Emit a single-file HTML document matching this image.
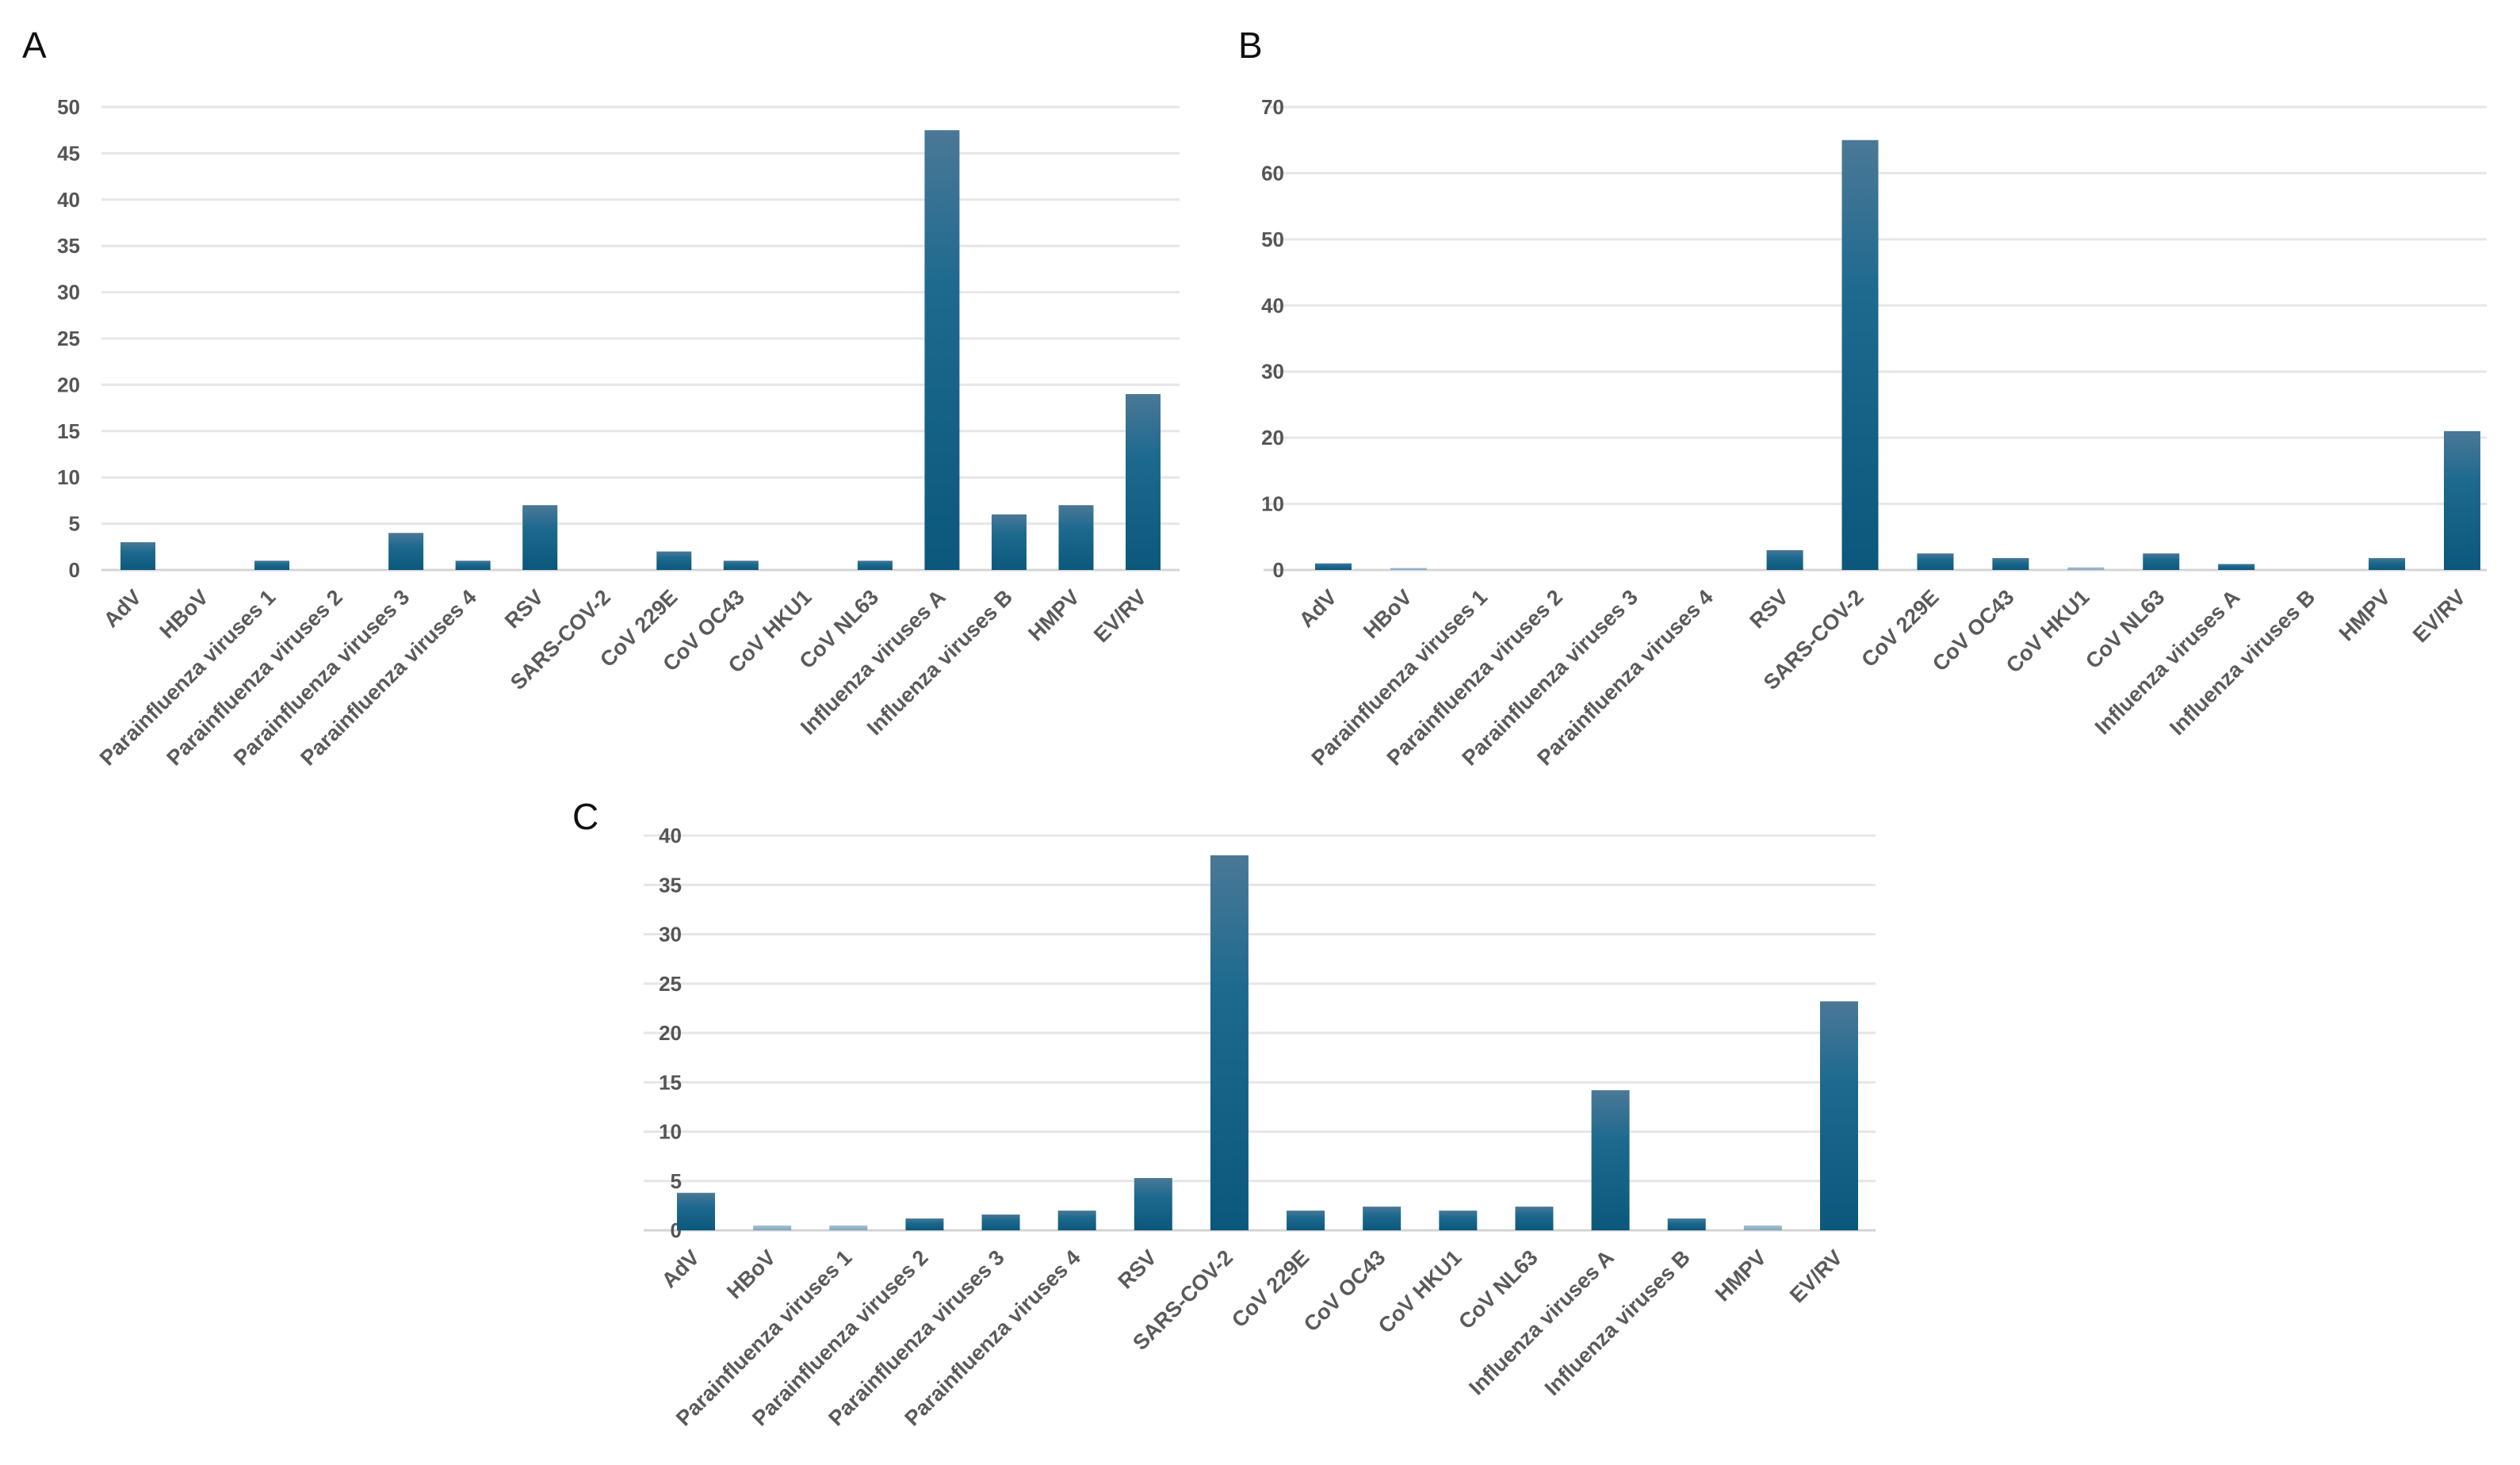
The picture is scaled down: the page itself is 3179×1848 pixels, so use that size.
<!DOCTYPE html>
<html><head><meta charset="utf-8">
<style>
html,body{margin:0;padding:0;background:#fff;}
svg{display:block;}
text{font-family:"Liberation Sans",Arial,sans-serif;}
</style></head>
<body>
<svg id="fig" width="3179" height="1848" viewBox="0 0 3179 1848" xmlns="http://www.w3.org/2000/svg">
<defs>
<linearGradient id="barGrad" x1="0" y1="0" x2="0" y2="1">
<stop offset="0" stop-color="#4b7896"/><stop offset="0.35" stop-color="#1e6a8f"/><stop offset="1" stop-color="#0b587c"/>
</linearGradient>
<linearGradient id="barLight" x1="0" y1="0" x2="0" y2="1">
<stop offset="0" stop-color="#a9c3d3"/><stop offset="1" stop-color="#7fa6be"/>
</linearGradient>
</defs>
<text x="28" y="73" font-size="46" fill="#111">A</text>
<text x="1562" y="73" font-size="46" fill="#111">B</text>
<text x="722" y="1046" font-size="46" fill="#111">C</text>
</svg>
<script>
const categories = ["AdV","HBoV","Parainfluenza viruses 1","Parainfluenza viruses 2","Parainfluenza viruses 3","Parainfluenza viruses 4","RSV","SARS-COV-2","CoV 229E","CoV OC43","CoV HKU1","CoV NL63","Influenza viruses A","Influenza viruses B","HMPV","EV/RV"];
const valuesA = [3,0,1,0,4,1,7,0,2,1,0,1,47.5,6,7,19];
const valuesB = [1,0.3,0,0,0,0,3,65,2.5,1.8,0.4,2.5,0.9,0,1.8,21];
const valuesC = [3.8,0.5,0.5,1.2,1.6,2,5.3,38,2,2.4,2,2.4,14.2,1.2,0.5,23.2];
const ticksA = [0,5,10,15,20,25,30,35,40,45,50];
const ticksB = [0,10,20,30,40,50,60,70];
const ticksC = [0,5,10,15,20,25,30,35,40];

const NS = "http://www.w3.org/2000/svg";
const svg = document.getElementById('fig');
function mk(tag, attrs){const e=document.createElementNS(NS,tag);for(const k in attrs)e.setAttribute(k,attrs[k]);return e;}

function drawPanel(id, vals, ticks, cfg){
  const g = mk('g',{});
  
  
  svg.appendChild(g);
  const maxV = ticks[ticks.length-1];
  const y = v => cfg.y0 - (v/maxV)*(cfg.y0-cfg.y1);
  const step = (cfg.cLast-cfg.cFirst)/(categories.length-1);
  const x = i => cfg.cFirst + i*step;
  ticks.forEach(t=>{
    const ln = mk('line',{x1:cfg.gx0,x2:cfg.gx1,y1:y(t),y2:y(t),stroke: t===0?'#d4d4d4':'#e6e6e6','stroke-width':3});
    
    
    g.appendChild(ln);
    const tx = mk('text',{x:cfg.lx,y:y(t)+9,'text-anchor':'end','font-size':26,'font-weight':'bold',fill:'#555'});
    tx.textContent = t;
    
    
    g.appendChild(tx);
  });
  vals.forEach((v,i)=>{
    if(v>0){
      const h = cfg.y0 - y(v);
      const r = mk('rect',{x:x(i)-cfg.bw/2,y:y(v),width:cfg.bw,height:h,fill: v<0.6?'url(#barLight)':'url(#barGrad)'});
      
      
      g.appendChild(r);
    }
    const lx = x(i)+6, ly = cfg.y0+36;
    const tx = mk('text',{x:lx,y:ly,'text-anchor':'end','font-size':27,'font-weight':'bold',fill:'#5a5a5a',transform:`rotate(-45 ${lx} ${ly})`});
    tx.textContent = categories[i];
    
    
    g.appendChild(tx);
  });
}
drawPanel('a', valuesA, ticksA, {gx0:128,gx1:1488,y0:719,y1:135,cFirst:174,cLast:1442,bw:44,lx:101});
drawPanel('b', valuesB, ticksB, {gx0:1594,gx1:3137,y0:719,y1:135,cFirst:1682,cLast:3106,bw:46,lx:1620});
drawPanel('c', valuesC, ticksC, {gx0:812,gx1:2366,y0:1552,y1:1054,cFirst:878,cLast:2320,bw:48,lx:860});
</script>
</body></html>
